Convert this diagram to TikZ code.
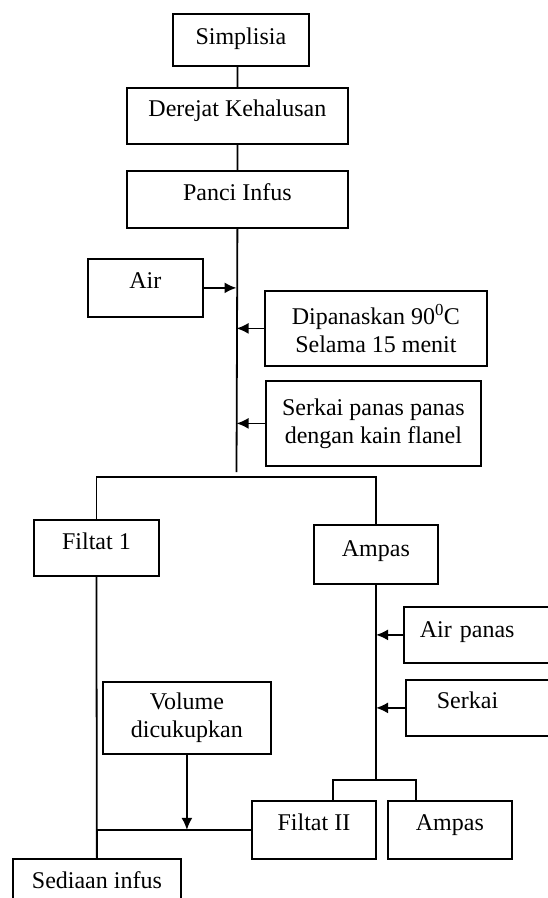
\documentclass[tikz,border=0pt]{standalone}
\usepackage{fontspec}
\setmainfont{Liberation Serif}
\usetikzlibrary{arrows.meta}
\begin{document}
\begin{tikzpicture}[x=1pt, y=-1pt, line width=1.8pt, >={Latex[length=12pt,width=11pt]}, font=\fontsize{24}{28}\selectfont,
  box/.style={draw, inner sep=0pt, align=center, anchor=north west}]
\useasboundingbox (0,0) rectangle (548,898);
\clip (0,0) rectangle (548,898);
\node[box, minimum width=136pt, text height=31pt, text depth=21pt] (simp) at (172,13) {Simplisia};
\node[box, minimum width=221pt, text height=29pt, text depth=27pt] (derajat) at (126,87) {Derejat Kehalusan};
\node[box, minimum width=221pt, text height=30pt, text depth=27pt] (panci) at (126,170) {Panci Infus};
\node[box, minimum width=115pt, text height=30pt, text depth=28pt] (air) at (87,258) {Air};
\node[box, minimum width=222pt, minimum height=75pt] (panas) at (264,290) {Dipanaskan 90\textsuperscript{0}C\\Selama 15 menit};
\node[box, minimum width=215pt, minimum height=85pt] (serkai) at (265,380) {Serkai panas panas\\dengan kain flanel};
\node[box, minimum width=125pt, text height=30pt, text depth=26pt] (filtat1) at (33,519) {Filtat 1};
\node[box, minimum width=124pt, text height=32pt, text depth=27pt] (ampas) at (313,524) {Ampas};
\node[box, text width=157pt, align=left, text height=31pt, text depth=25pt] (airpanas) at (403,606) {\hspace*{16pt}Air panas};
\node[box, text width=157pt, align=left, text height=29pt, text depth=27pt] (serkai2) at (405,679) {\hspace*{31pt}Serkai};
\node[box, minimum width=168pt, minimum height=72pt] (volume) at (102,681) {Volume\\dicukupkan};
\node[box, minimum width=124pt, text height=30pt, text depth=28pt] (filtat2) at (251,800) {Filtat II};
\node[box, minimum width=124pt, text height=30pt, text depth=28pt] (ampas2) at (387,800) {Ampas};
\node[box, minimum width=168pt, text height=30pt, text depth=30pt] (sediaan) at (12,858) {Sediaan infus};
\coordinate (t1) at (236.5,472);
\coordinate (split) at (236.5,477);
\coordinate (t2) at (376,780);
\draw (derajat.north |- simp.south) -- (derajat.north) (derajat.south) -- (panci.north) (panci.south) -- (t1);
\draw[->] (air.east) -- (air.east -| t1);
\draw[->] (panas.west) -- (panas.west -| t1);
\draw[->] (serkai.west) -- (serkai.west -| t1);
\draw (filtat1.north) |- (split) -| (ampas.north);
\draw (ampas.south) -- (t2);
\draw[->] (airpanas.west) -- (airpanas.west -| t2);
\draw[->] (serkai2.west) -- (serkai2.west -| t2);
\draw ([xshift=19pt]filtat2.north) |- (t2) -| ([xshift=-34pt]ampas2.north);
\draw (filtat1.south) -- (sediaan.north);
\draw (filtat2.west) -- (filtat2.west -| filtat1.south);
\draw[->] (volume.south) -- (volume.south |- filtat2.west);
\end{tikzpicture}
\end{document}
